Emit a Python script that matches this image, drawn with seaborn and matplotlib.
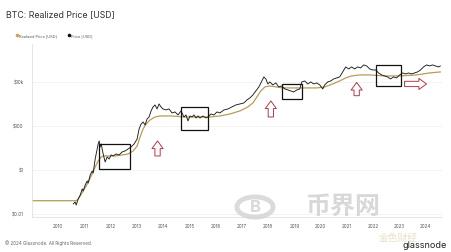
import matplotlib
matplotlib.use("Agg")
import matplotlib.pyplot as plt
import numpy as np
import pandas as pd
import seaborn as sns
from matplotlib.patches import Rectangle, Circle
from matplotlib.lines import Line2D

# ---------------- data ----------------
price_year = [2010.570, 2010.646, 2010.684, 2010.760, 2010.837, 2010.913, 2010.951, 2011.027, 2011.103, 2011.141,
              2011.217, 2011.293, 2011.331, 2011.407, 2011.483, 2011.521, 2011.559, 2011.597, 2011.635, 2011.711,
              2011.787, 2011.863, 2011.939, 2012.015, 2012.091, 2012.205, 2012.319, 2012.433, 2012.548, 2012.662,
              2012.776, 2012.890, 2013.004, 2013.080, 2013.156, 2013.232, 2013.308, 2013.384, 2013.460, 2013.536,
              2013.612, 2013.688, 2013.764, 2013.840, 2013.916, 2013.992, 2014.106, 2014.221, 2014.335, 2014.449,
              2014.563, 2014.677, 2014.791, 2014.867, 2014.943, 2015.019, 2015.095, 2015.171, 2015.247, 2015.323,
              2015.399, 2015.513, 2015.627, 2015.703, 2015.817, 2015.932, 2016.046, 2016.160, 2016.312, 2016.464,
              2016.616, 2016.768, 2016.920, 2017.072, 2017.186, 2017.300, 2017.414, 2017.529, 2017.643, 2017.757,
              2017.833, 2017.909, 2017.985, 2018.061, 2018.175, 2018.289, 2018.403, 2018.517, 2018.631, 2018.745,
              2018.859, 2018.973, 2019.087, 2019.202, 2019.278, 2019.392, 2019.506, 2019.620, 2019.734, 2019.848,
              2019.962, 2020.076, 2020.152, 2020.266, 2020.380, 2020.494, 2020.608, 2020.722, 2020.837, 2020.951,
              2021.065, 2021.179, 2021.293, 2021.407, 2021.521, 2021.635, 2021.749, 2021.863, 2021.977, 2022.091,
              2022.205, 2022.319, 2022.433, 2022.548, 2022.662, 2022.776, 2022.890, 2023.004, 2023.118, 2023.232,
              2023.346, 2023.460, 2023.574, 2023.688, 2023.802, 2023.916, 2024.030, 2024.144, 2024.259, 2024.373,
              2024.487, 2024.563]
price_usd = [0.0276, 0.0340, 0.0248, 0.0466, 0.0708, 0.133, 0.108, 0.202, 0.306, 0.248,
             0.574, 0.873, 0.708, 3.06, 8.73, 14.7, 20.2, 10.8, 14.7, 5.18,
             2.24, 3.78, 3.06, 4.66, 4.20, 5.18, 4.66, 6.38, 7.08, 8.73,
             10.8, 14.7, 24.8, 70.8, 119, 147, 108, 202, 248, 466,
             708, 873, 574, 968, 708, 574, 517, 574, 378, 420,
             306, 466, 248, 306, 164, 276, 248, 306, 224, 276,
             224, 276, 224, 248, 340, 306, 420, 378, 517, 574,
             708, 873, 968, 1076, 1471, 1816, 2483, 3776, 5742, 10760,
             16360, 13270, 7852, 9680, 7080, 8730, 5742, 6380, 4660, 4200,
             3776, 3400, 4200, 4660, 9680, 10760, 7852, 9680, 7852, 8730,
             7080, 4660, 7080, 9680, 10760, 13270, 14720, 16360, 27600, 46600,
             37800, 46600, 37800, 46600, 42000, 57400, 51700, 37800, 34000, 34000,
             24800, 20200, 18160, 16360, 13270, 16360, 14720, 20200, 24800, 22400,
             24800, 22400, 24800, 27600, 34000, 46600, 57400, 51700, 57400, 51700,
             46600, 51700]

realized_year = [2009.011, 2010.684, 2010.760, 2010.837, 2010.951, 2011.065, 2011.179, 2011.293, 2011.407, 2011.521,
                 2011.635, 2011.749, 2011.901, 2012.167, 2012.433, 2012.662, 2012.852, 2013.004, 2013.118, 2013.232,
                 2013.346, 2013.498, 2013.688, 2013.878, 2014.259, 2014.829, 2015.285, 2015.779, 2016.160, 2016.540,
                 2016.920, 2017.224, 2017.414, 2017.567, 2017.719, 2017.871, 2018.061, 2018.555, 2019.202, 2019.848,
                 2020.152, 2020.456, 2020.722, 2020.951, 2021.179, 2021.483, 2021.863, 2022.433, 2023.004, 2023.650,
                 2024.144, 2024.563]
realized_usd = [0.039, 0.039, 0.0466, 0.0638, 0.108, 0.1815, 0.340, 0.638, 1.33, 2.48,
                3.78, 4.20, 4.20, 4.20, 4.66, 5.18, 7.08, 11.9, 30.6, 70.8,
                119, 182, 248, 276, 276, 248, 248, 248, 276, 340,
                466, 708, 1076, 2018, 3776, 5742, 6380, 5180, 5180, 5180,
                5742, 7852, 10760, 14720, 18160, 20200, 20200, 18160, 18160, 20200,
                24800, 27600]

x_ticks = list(range(2010, 2025))
x_tick_labels = [str(y) for y in x_ticks]
y_ticks = [0.01, 1, 100, 10000]
y_tick_labels = ["$0.01", "$1", "$100", "$10k"]

# highlighted consolidation boxes (year start, year end, price low, price high)
box_x0 = [2011.559, 2014.677, 2018.517, 2022.091]
box_x1 = [2012.738, 2015.703, 2019.278, 2023.042]
box_y0 = [1.08, 63.8, 1637, 6380]
box_y1 = [14.7, 708, 7852, 57400]

# red outline arrows (tail -> tip)
arrow_tail_x = [2013.783, 2018.099, 2021.369, 2023.194]
arrow_tail_y = [4.2, 248, 2300, 7852]
arrow_tip_x = [2013.783, 2018.099, 2021.369, 2024.030]
arrow_tip_y = [20.2, 1327, 9200, 7852]

# ---------------- styling ----------------
sns.set_style("white")
plt.rcParams['font.family'] = ['Inter', 'Noto Sans CJK SC', 'DejaVu Sans']

W, H = 452, 253
fig = plt.figure(figsize=(W / 100, H / 100), dpi=100)
fig.patch.set_facecolor("white")
ax = fig.add_axes([32 / W, 1 - 218 / H, 410 / W, 173 / H])

realized_color = "#b99c55"
price_color = "#1c1c1c"

df_p = pd.DataFrame({"year": price_year, "value": price_usd})
df_r = pd.DataFrame({"year": realized_year, "value": realized_usd})

sns.lineplot(data=df_r, x="year", y="value", ax=ax, color=realized_color, lw=0.9,
             estimator=None, sort=False, zorder=2)
sns.lineplot(data=df_p, x="year", y="value", ax=ax, color=price_color, lw=0.65,
             estimator=None, sort=False, zorder=3)

ax.set_yscale("log")
ax.set_xlim(2009.0, 2024.62)
ax.set_ylim(10 ** -2.15, 10 ** 5.71)
ax.set_xticks(x_ticks)
ax.set_xticklabels(x_tick_labels)
ax.set_yticks(y_ticks)
ax.set_yticklabels(y_tick_labels)
ax.minorticks_off()
ax.set_xlabel("")
ax.set_ylabel("")
ax.tick_params(axis="both", length=0, labelsize=3.3, colors="#555555")
ax.tick_params(axis="x", pad=4)
ax.tick_params(axis="y", pad=6)
ax.yaxis.grid(True, color="#eeeeee", lw=0.5)
ax.xaxis.grid(False)
for s in ["top", "right"]:
    ax.spines[s].set_visible(False)
for s in ["left", "bottom"]:
    ax.spines[s].set_color("#e2e2e2")
    ax.spines[s].set_linewidth(0.6)

# boxes
for x0, x1, y0, y1 in zip(box_x0, box_x1, box_y0, box_y1):
    ax.add_patch(Rectangle((x0, y0), x1 - x0, y1 - y0, fill=False,
                           ec="#111111", lw=0.9, zorder=4))

# arrows
for tx, ty, hx, hy in zip(arrow_tail_x, arrow_tail_y, arrow_tip_x, arrow_tip_y):
    ax.annotate("", xy=(hx, hy), xytext=(tx, ty),
                arrowprops=dict(arrowstyle="simple,head_width=0.8,head_length=0.55,tail_width=0.38",
                                fc="white", ec="#b23a4a", lw=0.7, mutation_scale=10,
                                shrinkA=0, shrinkB=0),
                zorder=5)

# title and legend
fig.text(6 / W, 1 - 15 / H, "BTC: Realized Price [USD]", fontsize=6.3, color="#333333",
         va="center", ha="left")
handles = [Line2D([], [], marker="o", ls="none", color="#e0a040", markersize=1.6),
           Line2D([], [], marker="o", ls="none", color="#111111", markersize=1.6)]
fig.legend(handles, ["Realized Price [USD]", "Price [USD]"], loc="center left",
           bbox_to_anchor=(12 / W, 1 - 36 / H), ncol=2, frameon=False, fontsize=2.8,
           handletextpad=0.2, columnspacing=3.0, handlelength=0.6, labelcolor="#555555")

# footer
fig.text(5 / W, 1 - 243 / H, "\u00a9 2024 Glassnode. All Rights Reserved.", fontsize=3.3,
         color="#666666", va="center", ha="left")
fig.text(447 / W, 1 - 246 / H, "glassnode", fontsize=6.5, color="#222222",
         va="center", ha="right")

# faint watermark
fig.text(343 / W, 1 - 207 / H, "币界网", fontsize=18, color="#cccccc", alpha=0.75,
         va="center", ha="center", fontweight="bold")
fig.patches.append(Circle((255 / W, 1 - 208 / H), 0.04, transform=fig.transFigure,
                          fill=False, ec="#d0d0d0", lw=3.5, alpha=0.75))
fig.text(255 / W, 1 - 208 / H, "B", fontsize=12, color="#cccccc", alpha=0.75,
         va="center", ha="center", fontweight="bold")
fig.text(398 / W, 1 - 238 / H, "金色财经", fontsize=7, color="#e8dcc0", alpha=0.9,
         va="center", ha="center")

fig.savefig("out.png", dpi=100, facecolor="white")
